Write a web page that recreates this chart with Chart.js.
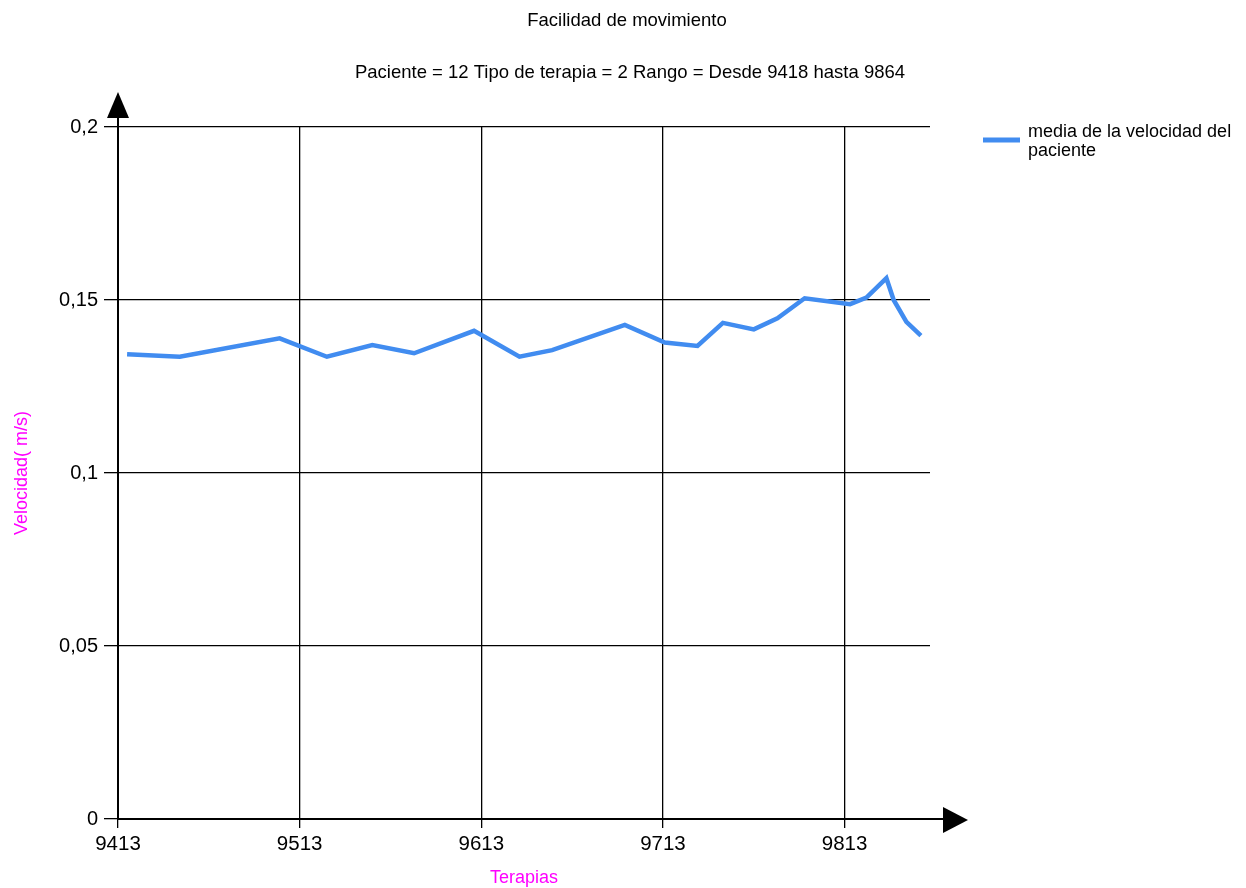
<!DOCTYPE html>
<html lang="es">
<head>
    <meta charset="UTF-8">
    <title>Facilidad de movimiento</title>
    <script src="https://cdn.jsdelivr.net/npm/chart.js"></script>
    <style>
        body { margin: 0; background: #fff; }
        #wrap { width: 1246px; height: 888px; }
    </style>
</head>
<body>
    <div id="wrap">
        <canvas id="velChart" width="1246" height="888"></canvas>
    </div>

    <script>
        // numero de terapia y velocidad media (m/s)
        const terapias = [9418, 9447, 9502, 9528, 9553, 9576, 9609, 9634, 9652, 9692, 9714,
                          9732, 9746, 9763, 9776, 9791, 9816, 9825, 9836, 9840, 9847, 9855];
        const velocidades = [0.1343, 0.1336, 0.1389, 0.1336, 0.1370, 0.1346, 0.1411, 0.1336,
                             0.1355, 0.1428, 0.1377, 0.1367, 0.1434, 0.1415, 0.1447, 0.1505,
                             0.1488, 0.1507, 0.1563, 0.1500, 0.1437, 0.1397];

        const xTicks = [9413, 9513, 9613, 9713, 9813];
        const yTicks = [0, 0.05, 0.1, 0.15, 0.2];
        const yTickLabels = ['0', '0,05', '0,1', '0,15', '0,2'];

        const titulo = 'Facilidad de movimiento';
        const subtitulo = 'Paciente = 12 Tipo de terapia = 2 Rango = Desde 9418 hasta 9864';
        const serieNombre = 'media de la velocidad del paciente';

        const FUENTE = "'Liberation Sans', Arial, sans-serif";

        // arrows on the axes, titles and the legend box on the right
        const decoracion = {
            id: 'decoracion',
            afterDraw(chart) {
                const ctx = chart.ctx;
                const a = chart.chartArea;
                ctx.save();
                ctx.fillStyle = '#000';
                ctx.strokeStyle = '#000';
                ctx.lineWidth = 2;

                // y axis extension + arrow
                ctx.beginPath();
                ctx.moveTo(a.left, a.top);
                ctx.lineTo(a.left, a.top - 12);
                ctx.stroke();
                ctx.beginPath();
                ctx.moveTo(a.left, a.top - 35);
                ctx.lineTo(a.left - 11, a.top - 9);
                ctx.lineTo(a.left + 11, a.top - 9);
                ctx.closePath();
                ctx.fill();

                // x axis extension + arrow
                ctx.beginPath();
                ctx.moveTo(a.right, a.bottom);
                ctx.lineTo(a.right + 16, a.bottom);
                ctx.stroke();
                ctx.beginPath();
                ctx.moveTo(a.right + 38, a.bottom + 1);
                ctx.lineTo(a.right + 13, a.bottom - 12);
                ctx.lineTo(a.right + 13, a.bottom + 14);
                ctx.closePath();
                ctx.fill();

                // titles
                ctx.textAlign = 'center';
                ctx.textBaseline = 'middle';
                ctx.font = '18.5px ' + FUENTE;
                ctx.fillText(titulo, 627, 21);
                ctx.fillText(subtitulo, 630, 73);

                // legend
                const ds = chart.data.datasets[0];
                ctx.strokeStyle = ds.borderColor;
                ctx.lineWidth = 5;
                ctx.beginPath();
                ctx.moveTo(983, 140);
                ctx.lineTo(1020, 140);
                ctx.stroke();

                ctx.font = '18px ' + FUENTE;
                ctx.textAlign = 'left';
                ctx.textBaseline = 'alphabetic';
                const words = ds.label.split(' ');
                const lines = [];
                let cur = '';
                words.forEach(w => {
                    const test = cur ? cur + ' ' + w : w;
                    if (ctx.measureText(test).width > 214 && cur) {
                        lines.push(cur);
                        cur = w;
                    } else {
                        cur = test;
                    }
                });
                lines.push(cur);
                lines.forEach((l, i) => ctx.fillText(l, 1028, 137 + i * 19));
                ctx.restore();
            }
        };

        const puntos = terapias.map((t, i) => ({ x: t, y: velocidades[i] }));

        new Chart(document.getElementById('velChart'), {
            type: 'line',
            data: {
                datasets: [{
                    label: serieNombre,
                    data: puntos,
                    borderColor: '#418CF0',
                    backgroundColor: '#418CF0',
                    borderWidth: 4.5,
                    pointRadius: 0,
                    tension: 0,
                    fill: false
                }]
            },
            options: {
                responsive: false,
                animation: false,
                layout: { padding: { top: 127, right: 316, left: 0, bottom: 0 } },
                plugins: {
                    legend: { display: false },
                    title: { display: false },
                    tooltip: { enabled: false }
                },
                scales: {
                    x: {
                        type: 'linear',
                        min: 9413,
                        max: 9860,
                        afterBuildTicks: s => { s.ticks = xTicks.map(v => ({ value: v })); },
                        afterFit: s => { s.height = 69; },
                        ticks: {
                            color: '#000',
                            padding: 4,
                            maxRotation: 0,
                            font: { family: FUENTE, size: 20.5 },
                            callback: v => String(v)
                        },
                        grid: { color: '#000', lineWidth: 1.3, tickLength: 9 },
                        border: { color: '#000', width: 2 },
                        title: {
                            display: true,
                            text: 'Terapias',
                            color: '#FF00FF',
                            font: { family: FUENTE, size: 18, lineHeight: 1 },
                            padding: { top: 0, bottom: 1 }
                        }
                    },
                    y: {
                        min: 0,
                        max: 0.2,
                        afterBuildTicks: s => { s.ticks = yTicks.map(v => ({ value: v })); },
                        afterFit: s => { s.width = 118; },
                        ticks: {
                            color: '#000',
                            padding: 6,
                            font: { family: FUENTE, size: 20 },
                            callback: (v, i) => yTickLabels[i]
                        },
                        grid: { color: '#000', lineWidth: 1.3, tickLength: 14 },
                        border: { color: '#000', width: 2 },
                        title: {
                            display: true,
                            text: 'Velocidad( m/s)',
                            color: '#FF00FF',
                            font: { family: FUENTE, size: 18, lineHeight: 1.2 },
                            padding: { top: 11, bottom: 0 }
                        }
                    }
                }
            },
            plugins: [decoracion]
        });
    </script>
</body>
</html>
